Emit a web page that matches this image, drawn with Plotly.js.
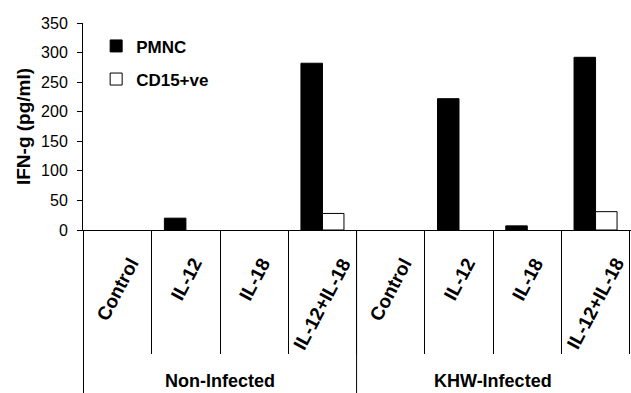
<!DOCTYPE html>
<html>
<head>
<meta charset="utf-8">
<script src="https://cdn.plot.ly/plotly-3.0.1.min.js"></script>
<style>html,body{margin:0;padding:0;background:#fff;}#chart{width:631px;height:393px;}</style>
</head>
<body>
<div id="chart"></div>
<script>
// ---- data ----
var categories = ["Control", "IL-12", "IL-18", "IL-12+IL-18", "Control ", "IL-12 ", "IL-18 ", "IL-12+IL-18 "];
var categoryLabels = ["Control", "IL-12", "IL-18", "IL-12+IL-18", "Control", "IL-12", "IL-18", "IL-12+IL-18"];
var groupLabels = ["Non-Infected", "KHW-Infected"];
var groupCenters = [1.5, 5.5];
var groupBounds = [-0.5, 3.5];
var pmncValues = [0, 20, 0, 282, 0, 222, 7, 292];
var cd15Values = [0, 0, 0, 28, 0, 0, 0, 31];
var seriesNames = ["PMNC", "CD15+ve"];
var yTicks = [0, 50, 100, 150, 200, 250, 300, 350];

var FONT = "Arial, 'Liberation Sans', sans-serif";
var plotTop = 23, plotBottom = 230, H = 393;
var plotH = plotBottom - plotTop;
function pyToPaper(py) { return (plotBottom - py) / plotH; }
// zero-height bars are not drawn (as in the original), so their outline does not thicken the axis
function hideZero(vals) { return vals.map(function (v) { return v === 0 ? null : v; }); }

var traces = [
  {type: "bar", name: seriesNames[0], x: categories, y: hideZero(pmncValues), legendgroup: "a",
   marker: {color: "#000000", line: {color: "#000000", width: 1}}},
  {type: "bar", name: seriesNames[1], x: categories, y: hideZero(cd15Values), legendgroup: "b",
   marker: {color: "#ffffff", line: {color: "#000000", width: 1}}}
];

var annotations = [];
categories.forEach(function (c, i) {
  annotations.push({x: c, xref: "x", y: pyToPaper(252), yref: "paper", text: categoryLabels[i],
    showarrow: false, textangle: -62, xanchor: "center", yanchor: "top",
    font: {family: FONT, size: 19, color: "#000", weight: "bold"}});
});
groupLabels.forEach(function (g, i) {
  annotations.push({x: groupCenters[i], xref: "x", y: pyToPaper(381), yref: "paper", text: g,
    showarrow: false, xanchor: "center", yanchor: "middle",
    font: {family: FONT, size: 18, color: "#000", weight: "bold"}});
});

var shapes = groupBounds.map(function (b) {
  return {type: "line", xref: "x", yref: "paper", x0: b, x1: b, y0: 0, y1: pyToPaper(H + 5),
    line: {color: "#000", width: 1}};
});

var layout = {
  width: 631, height: 393,
  margin: {l: 83, r: 0, t: plotTop, b: H - plotBottom, pad: 0},
  paper_bgcolor: "#fff", plot_bgcolor: "#fff",
  barmode: "group", bargap: 0.37, bargroupgap: 0,
  showlegend: true,
  legend: {x: 0.024, y: 0.974, xanchor: "left", yanchor: "top", bgcolor: "rgba(0,0,0,0)",
    traceorder: "grouped", tracegroupgap: 8,
    font: {family: FONT, size: 17, color: "#000", weight: "bold"}},
  xaxis: {type: "category", categoryarray: categories, categoryorder: "array",
    showline: true, linecolor: "#000", linewidth: 1,
    ticks: "outside", tickson: "boundaries", ticklen: 123, tickcolor: "#000", tickwidth: 1,
    showticklabels: false, showgrid: false, zeroline: false, fixedrange: true},
  yaxis: {range: [0, 350], tickvals: yTicks, showline: true, linecolor: "#000", linewidth: 1,
    ticks: "outside", ticklen: 5, tickcolor: "#000", tickwidth: 1, showgrid: false, zeroline: false,
    ticklabelstandoff: 6,
    tickfont: {family: FONT, size: 16, color: "#000"},
    title: {text: "IFN-g (pg/ml)", standoff: 5, font: {family: FONT, size: 19, color: "#000", weight: "bold"}}},
  annotations: annotations,
  shapes: shapes,
  font: {family: FONT, color: "#000"}
};

Plotly.newPlot("chart", traces, layout, {displayModeBar: false, staticPlot: true});
</script>
</body>
</html>
